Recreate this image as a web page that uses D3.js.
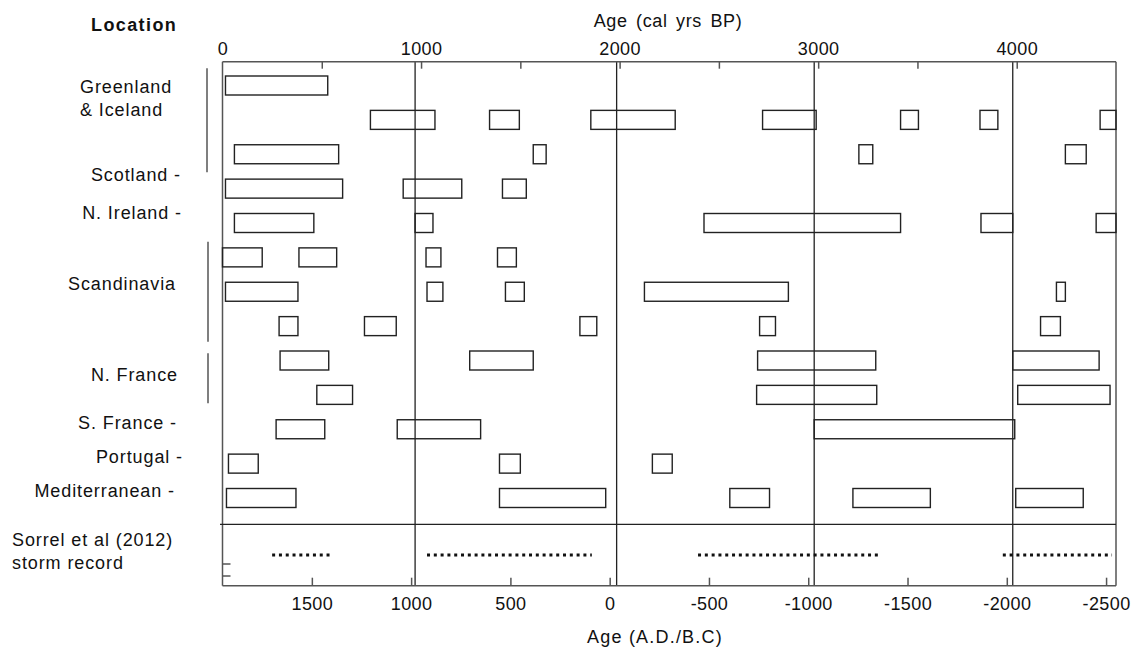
<!DOCTYPE html>
<html>
<head>
<meta charset="utf-8">
<script src="https://cdn.jsdelivr.net/npm/d3@7"></script>
<style>
  html, body { margin: 0; padding: 0; background: #fff; }
  svg { display: block; }
  text { font-family: "Liberation Sans", Arial, sans-serif; fill: #111; }
</style>
</head>
<body>
<svg id="chart" width="1133" height="652"></svg>
<script>
// ---- Data -------------------------------------------------------------
// Storm-activity intervals (cal yrs BP) for each record row, top to bottom.
const recordIntervalsBP = [
  [[15, 530]],                                                                   // Greenland & Iceland
  [[745, 1070], [1345, 1495], [1855, 2280], [2720, 2990], [3415, 3505], [3815, 3905], [4420, 4500]],
  [[60, 585], [1565, 1630], [3205, 3275], [4245, 4350]],
  [[15, 605], [910, 1205], [1410, 1530]],                                        // Scotland
  [[60, 460], [970, 1060], [2425, 3415], [3820, 3980], [4400, 4500]],           // N. Ireland
  [[0, 200], [385, 575], [1025, 1100], [1385, 1480]],                            // Scandinavia
  [[15, 380], [1030, 1110], [1425, 1520], [2125, 2850], [4200, 4245]],
  [[285, 380], [715, 875], [1800, 1885], [2705, 2785], [4120, 4220]],
  [[290, 535], [1245, 1565], [2695, 3290], [3980, 4415]],                        // N. France
  [[475, 655], [2690, 3295], [4005, 4470]],
  [[270, 515], [880, 1300], [2980, 3990]],                                       // S. France
  [[30, 180], [1395, 1500], [2165, 2265]],                                       // Portugal
  [[20, 370], [1395, 1930], [2555, 2755], [3175, 3565], [3995, 4335]]            // Mediterranean
];

// Storm periods of the Sorrel et al. (2012) record (years A.D./B.C.)
const stormPeriodsAD = [[1700, 1400], [920, 90], [-445, -1365], [-1980, -2530]];

// Axis ticks
const bpTickValues = [500, 1000, 1500, 2000, 2500, 3000, 3500, 4000];
const bpTickLabels = [0, 1000, 2000, 3000, 4000];
const adTickValues = [1500, 1000, 500, 0, -500, -1000, -1500, -2000, -2500];
// Reference lines (cal yrs BP)
const referenceBP = [970, 1985, 2980, 3980];

// Region labels
const regionNames = ["Greenland\n& Iceland", "Scotland -", "N. Ireland -", "Scandinavia",
                     "N. France", "S. France -", "Portugal -", "Mediterranean -"];

// ---- Layout -----------------------------------------------------------
const plot = { left: 222.5, right: 1116, top: 61.7, stormTop: 524.3, bottom: 585.7 };
const BAR_H = 19;
// label placement: [anchor, x, y(center)]
const regionLabelPos = [
  ["start", 80, 86.7], ["end", 181, 175], ["end", 182, 212.3], ["start", 68, 283.3],
  ["end", 178, 375], ["end", 177, 422.7], ["end", 183, 456.7], ["end", 175, 490.7]
];
// group brackets: [x, y1, y2]
const brackets = [[207, 68.3, 172.3], [208, 241.7, 341.7], [208, 353.3, 403.3]];

// ---- Scales -----------------------------------------------------------
const svg = d3.select("#chart");
const x = d3.scaleLinear().domain([0, 4500]).range([plot.left, plot.right]);
const xAD = d3.scaleLinear().domain([1950 - 0, 1950 - 4500]).range([plot.left, plot.right]);
const y = d3.scalePoint().domain(d3.range(recordIntervalsBP.length)).range([85.5, 498]);

const axisColor = "#555";
const fontSize = 18;
const labelSpacing = 0.9;

// ---- Reference lines --------------------------------------------------
svg.append("g").selectAll("line").data(referenceBP).join("line")
  .attr("x1", d => x(d)).attr("x2", d => x(d))
  .attr("y1", plot.top).attr("y2", plot.bottom)
  .attr("stroke", "#222").attr("stroke-width", 1.3);

// ---- Frame ------------------------------------------------------------
const frame = svg.append("g").attr("stroke", axisColor).attr("stroke-width", 1.5).attr("fill", "none");
frame.append("line").attr("x1", plot.left).attr("x2", plot.right).attr("y1", plot.top).attr("y2", plot.top);
frame.append("line").attr("x1", plot.left).attr("x2", plot.left).attr("y1", plot.top).attr("y2", plot.bottom);
frame.append("line").attr("x1", plot.right).attr("x2", plot.right).attr("y1", plot.top).attr("y2", plot.bottom);
frame.append("line").attr("x1", plot.left).attr("x2", plot.right).attr("y1", plot.bottom).attr("y2", plot.bottom);
frame.append("line").attr("x1", 220).attr("x2", plot.right).attr("y1", plot.stormTop).attr("y2", plot.stormTop)
  .attr("stroke", "#222").attr("stroke-width", 1.3);
// small ticks on the storm-record axis
[564, 576].forEach(ty => frame.append("line")
  .attr("x1", plot.left).attr("x2", plot.left + 8).attr("y1", ty).attr("y2", ty));

// ---- Top axis (cal yrs BP) --------------------------------------------
const topTicks = svg.append("g").attr("transform", `translate(0,${plot.top})`)
  .call(d3.axisTop(x).tickValues(bpTickValues).tickSizeInner(-7).tickSizeOuter(0).tickFormat(""));
topTicks.select(".domain").remove();
topTicks.selectAll("line").attr("stroke", axisColor).attr("stroke-width", 1.5);

const topLabels = svg.append("g").attr("transform", `translate(0,${plot.top})`)
  .call(d3.axisTop(x).tickValues(bpTickLabels).tickSize(0).tickPadding(6.5).tickFormat(d => String(d)));
topLabels.select(".domain").remove();
topLabels.selectAll("text").attr("font-size", fontSize).attr("font-family", null)
  .attr("fill", "#111").attr("letter-spacing", 0.4);

// ---- Bottom axis (A.D./B.C.) ------------------------------------------
const bottomAxis = svg.append("g").attr("transform", `translate(0,${plot.bottom})`)
  .call(d3.axisBottom(xAD).tickValues(adTickValues).tickSizeInner(-8).tickSizeOuter(0)
        .tickPadding(12).tickFormat(d => String(d)));
bottomAxis.select(".domain").remove();
bottomAxis.selectAll("line").attr("stroke", axisColor).attr("stroke-width", 1.5);
bottomAxis.selectAll("text").attr("font-size", fontSize).attr("font-family", null)
  .attr("fill", "#111").attr("letter-spacing", 0.4);

// ---- Interval bars ----------------------------------------------------
const bars = recordIntervalsBP.flatMap((ivs, row) => ivs.map(([a, b]) => ({ row, a, b })));
svg.append("g").selectAll("rect").data(bars).join("rect")
  .attr("x", d => x(d.a))
  .attr("y", d => y(d.row) - BAR_H / 2)
  .attr("width", d => x(d.b) - x(d.a))
  .attr("height", BAR_H)
  .attr("fill", "none")
  .attr("stroke", "#222")
  .attr("stroke-width", 1.4);

// ---- Storm record -----------------------------------------------------
svg.append("g").selectAll("line").data(stormPeriodsAD).join("line")
  .attr("x1", d => xAD(d[0])).attr("x2", d => xAD(d[1]))
  .attr("y1", 555).attr("y2", 555)
  .attr("stroke", "#111").attr("stroke-width", 2.8).attr("stroke-dasharray", "3 3.8");

// ---- Region labels & brackets -----------------------------------------
const labels = svg.append("g").attr("font-size", fontSize);
regionNames.forEach((name, i) => {
  const [anchor, lx, ly] = regionLabelPos[i];
  const t = labels.append("text").attr("text-anchor", anchor).attr("x", lx).attr("y", ly)
    .attr("letter-spacing", labelSpacing);
  name.split("\n").forEach((line, k) => {
    t.append("tspan").attr("x", lx).attr("dy", k === 0 ? "0.35em" : "1.25em").text(line);
  });
});
svg.append("g").selectAll("line").data(brackets).join("line")
  .attr("x1", d => d[0]).attr("x2", d => d[0]).attr("y1", d => d[1]).attr("y2", d => d[2])
  .attr("stroke", axisColor).attr("stroke-width", 1.5);

// ---- Titles -----------------------------------------------------------
svg.append("text").attr("x", 91).attr("y", 25).attr("dy", "0.35em")
  .attr("font-size", fontSize).attr("font-weight", "bold").attr("letter-spacing", 1.4).text("Location");
svg.append("text").attr("x", 668).attr("y", 20.7).attr("dy", "0.35em").attr("text-anchor", "middle")
  .attr("font-size", fontSize).attr("letter-spacing", 0.6).attr("word-spacing", 3).text("Age (cal yrs BP)");
svg.append("text").attr("x", 655).attr("y", 637).attr("dy", "0.35em").attr("text-anchor", "middle")
  .attr("font-size", fontSize).attr("letter-spacing", 1.2).text("Age (A.D./B.C)");

const storm = svg.append("text").attr("font-size", fontSize).attr("letter-spacing", labelSpacing);
storm.append("tspan").attr("x", 12).attr("y", 540).attr("dy", "0.35em").text("Sorrel et al (2012)");
storm.append("tspan").attr("x", 12).attr("y", 562.3).attr("dy", "0.35em").text("storm record");
</script>
</body>
</html>
